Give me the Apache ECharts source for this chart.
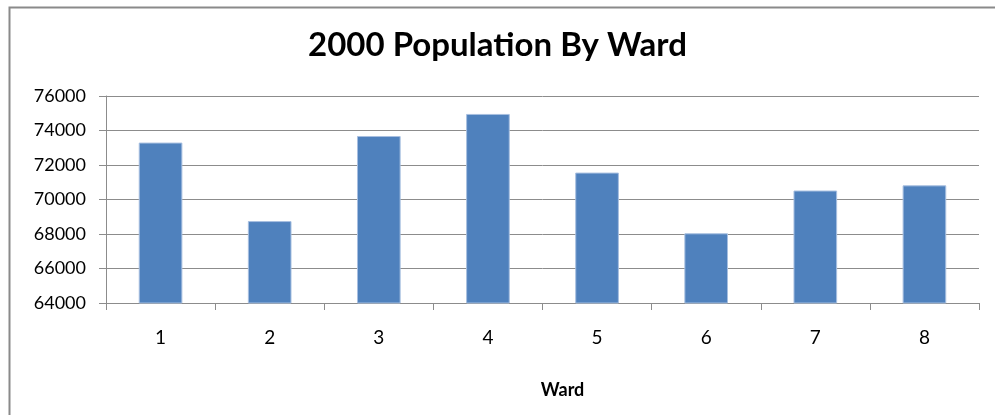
<!DOCTYPE html>
<html>
<head>
<meta charset="utf-8">
<script src="https://cdn.jsdelivr.net/npm/echarts@6/dist/echarts.min.js"></script>
<style>
  html, body { margin: 0; padding: 0; background: #fff; }
  #chart { width: 995px; height: 415px; }
</style>
</head>
<body>
<div id="chart"></div>
<script>
// data
const wards = ['1', '2', '3', '4', '5', '6', '7', '8']
const population = [73300, 68750, 73680, 74960, 71560, 68040, 70520, 70820]
const yMin = 64000
const yMax = 76000
const yStep = 2000

const chart = echarts.init(document.getElementById('chart'))

const axisGray = '#8c8c8c'

chart.setOption({
  animation: false,
  backgroundColor: '#fff',
  title: {
    text: '2000 Population By Ward',
    left: 'center',
    top: 24,
    textStyle: {
      fontFamily: 'Lato',
      fontWeight: 'bold',
      fontSize: 33,
      color: '#000'
    }
  },
  // outer chart border
  graphic: [
    {
      type: 'rect',
      left: 7,
      top: 5,
      shape: { width: 1000, height: 500 },
      style: { fill: 'none', stroke: '#8a8a8a', lineWidth: 2 },
      silent: true
    }
  ],
  grid: {
    left: 106,
    right: 16,
    top: 96,
    bottom: 112
  },
  xAxis: {
    type: 'category',
    data: wards,
    name: 'Ward',
    nameLocation: 'middle',
    nameGap: 78,
    nameTextStyle: {
      fontFamily: 'Lato',
      fontWeight: 'bold',
      fontSize: 18,
      color: '#000',
      padding: [0, 0, 0, 40]
    },
    axisLine: { lineStyle: { color: axisGray, width: 1 } },
    axisTick: { show: true, length: 7, lineStyle: { color: axisGray } },
    axisLabel: {
      margin: 25,
      fontFamily: 'Lato',
      fontSize: 19,
      color: '#000'
    },
    splitLine: { show: false }
  },
  yAxis: {
    type: 'value',
    min: yMin,
    max: yMax,
    interval: yStep,
    axisLine: { show: true, lineStyle: { color: axisGray, width: 1 } },
    axisTick: { show: true, length: 7, lineStyle: { color: axisGray } },
    axisLabel: {
      margin: 20,
      fontFamily: 'Lato',
      fontSize: 18,
      color: '#000',
      formatter: (v) => String(v)
    },
    splitLine: { show: true, lineStyle: { color: axisGray, width: 1 } }
  },
  series: [
    {
      type: 'bar',
      data: population,
      barWidth: '40%',
      itemStyle: {
        color: '#4f81bd',
        borderColor: '#a7bfe0',
        borderWidth: 1
      }
    }
  ]
})
</script>
</body>
</html>
